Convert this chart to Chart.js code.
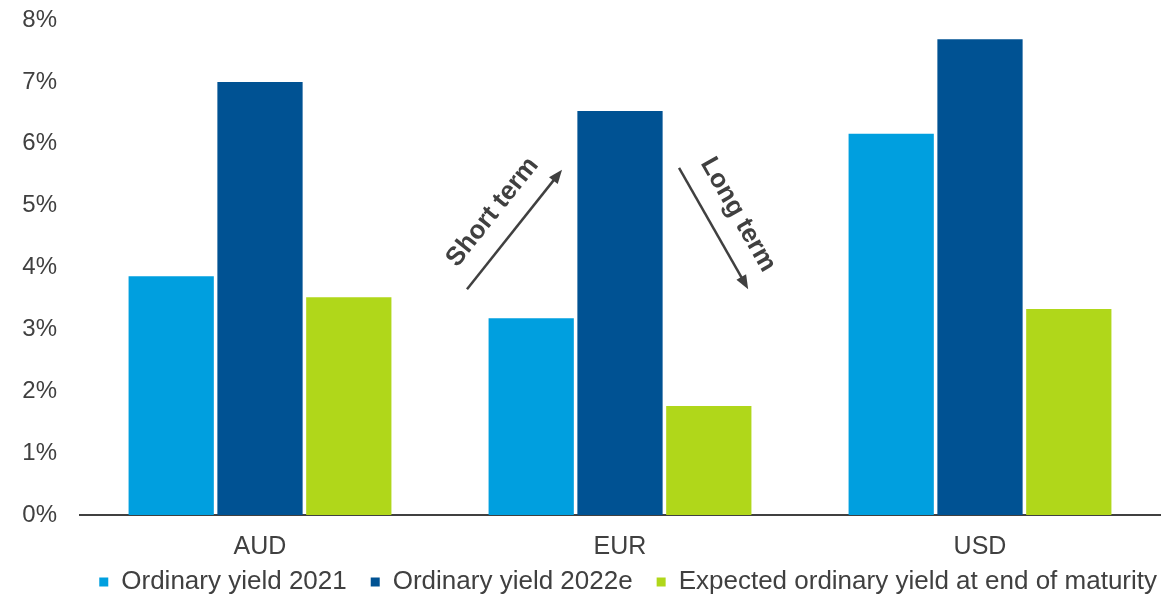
<!DOCTYPE html>
<html>
<head>
<meta charset="utf-8">
<script src="https://cdn.jsdelivr.net/npm/chart.js@4/dist/chart.umd.min.js"></script>
<style>
  html, body { margin: 0; padding: 0; background: #fff; }
  #wrap { width: 1161px; height: 599px; position: relative; }
</style>
</head>
<body>
<div id="wrap"><canvas id="yieldChart"></canvas></div>
<script>
// ── data ────────────────────────────────────────────────────────────────────
const currencies   = ['AUD', 'EUR', 'USD'];
const yield2021    = [3.86, 3.18, 6.16];
const yield2022e   = [7.00, 6.53, 7.69];
const yieldAtEnd   = [3.52, 1.76, 3.33];
const seriesLabels = ['Ordinary yield 2021', 'Ordinary yield 2022e', 'Expected ordinary yield at end of maturity'];
const yTicks       = [0, 1, 2, 3, 4, 5, 6, 7, 8];

// arrows around the EUR group: [category offset, yield %] start -> end
const arrowNotes = [
  { text: 'Short term', from: [1 - 0.425, 3.65], to: [1 - 0.161, 5.58] },
  { text: 'Long term',  from: [1 + 0.164, 5.61], to: [1 + 0.356, 3.65] },
];

const TEXT_COLOR = '#404040';
const FONT       = 'Liberation Sans, Arial, sans-serif';

// ── layout tweaks: x labels hang below the short axis box, legend hugs right ─
const layoutPlugin = {
  id: 'layoutTweaks',
  afterLayout(chart) {
    chart.scales.x.bottom += 30;   // keep tick labels out of the clip
    chart.legend.left  += 21;
    chart.legend.right += 21;
  },
};

// ── arrows plugin ───────────────────────────────────────────────────────────
const arrowPlugin = {
  id: 'arrows',
  afterDraw(chart) {
    const { ctx, scales: { x, y } } = chart;
    ctx.save();
    ctx.strokeStyle = TEXT_COLOR;
    ctx.fillStyle   = TEXT_COLOR;
    ctx.lineWidth   = 2.5;

    arrowNotes.forEach(n => {
      const x1 = x.getPixelForValue(n.from[0]), y1 = y.getPixelForValue(n.from[1]);
      const x2 = x.getPixelForValue(n.to[0]),   y2 = y.getPixelForValue(n.to[1]);
      const ang = Math.atan2(y2 - y1, x2 - x1);
      const head = 15;

      ctx.beginPath();
      ctx.moveTo(x1, y1);
      ctx.lineTo(x2 - Math.cos(ang) * head * 0.8, y2 - Math.sin(ang) * head * 0.8);
      ctx.stroke();

      ctx.beginPath();
      ctx.moveTo(x2, y2);
      ctx.lineTo(x2 - head * Math.cos(ang - 0.38), y2 - head * Math.sin(ang - 0.38));
      ctx.lineTo(x2 - head * Math.cos(ang + 0.38), y2 - head * Math.sin(ang + 0.38));
      ctx.closePath();
      ctx.fill();

      // label sits beside the arrow, on its upper side
      const mx = (x1 + x2) / 2, my = (y1 + y2) / 2;
      let nx = Math.sin(ang), ny = -Math.cos(ang);
      if (ny > 0) { nx = -nx; ny = -ny; }
      const off = 28;
      ctx.translate(mx + nx * off, my + ny * off);
      ctx.rotate(Math.abs(ang) > Math.PI / 2 ? ang + Math.PI : ang);
      ctx.font = 'bold 26px ' + FONT;
      ctx.textAlign = 'center';
      ctx.textBaseline = 'middle';
      ctx.fillText(n.text, 0, 0);
      ctx.setTransform(1, 0, 0, 1, 0, 0);
    });
    ctx.restore();
  },
};

// ── chart ───────────────────────────────────────────────────────────────────
new Chart(document.getElementById('yieldChart'), {
  type: 'bar',
  data: {
    labels: currencies,
    datasets: [
      { label: seriesLabels[0], data: yield2021,  backgroundColor: '#009FDF' },
      { label: seriesLabels[1], data: yield2022e, backgroundColor: '#005293' },
      { label: seriesLabels[2], data: yieldAtEnd, backgroundColor: '#B0D71A' },
    ],
  },
  options: {
    responsive: true,
    maintainAspectRatio: false,
    animation: false,
    datasets: { bar: { categoryPercentage: 0.74, barPercentage: 0.96 } },
    layout: { padding: { top: 20, right: 1, bottom: 0, left: 0 } },
    plugins: {
      legend: {
        position: 'bottom',
        align: 'end',
        maxHeight: 54,
        labels: {
          color: TEXT_COLOR,
          font: { size: 26, family: FONT },
          boxWidth: 9,
          boxHeight: 9,
          padding: 24,
        },
      },
      tooltip: { enabled: false },
    },
    scales: {
      x: {
        afterFit: s => { s.height = 30; },
        grid: { display: false, drawTicks: false },
        border: { display: true, color: TEXT_COLOR, width: 2 },
        ticks: { color: TEXT_COLOR, font: { size: 25, family: FONT }, padding: 17 },
      },
      y: {
        min: 0,
        max: 8,
        afterBuildTicks: s => { s.ticks = yTicks.map(v => ({ value: v })); },
        afterFit: s => { s.width = 80; s.paddingTop = 0; s.paddingBottom = 0; },
        grid: { display: false, drawTicks: false },
        border: { display: false },
        ticks: {
          color: TEXT_COLOR,
          font: { size: 24, family: FONT },
          padding: 23,
          callback: v => v + '%',
        },
      },
    },
  },
  plugins: [layoutPlugin, arrowPlugin],
});
</script>
</body>
</html>
